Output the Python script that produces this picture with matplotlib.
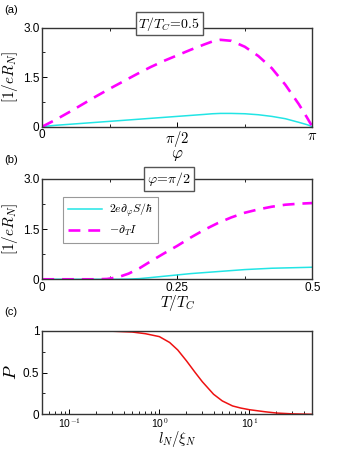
import numpy as np
import matplotlib
matplotlib.use("Agg")
import matplotlib.pyplot as plt
from matplotlib.ticker import FixedLocator, NullFormatter, LogLocator

plt.rcParams["mathtext.fontset"] = "cm"
plt.rcParams["font.family"] = "Liberation Sans"
plt.rcParams["axes.linewidth"] = 1.0
plt.rcParams["axes.edgecolor"] = "#333333"

# panel (a): vs phase at T/Tc = 0.5  (x in units of pi)
phi_a = [0, 0.05, 0.1, 0.15, 0.2, 0.25, 0.3, 0.35, 0.4, 0.45, 0.5, 0.55, 0.6,
         0.63, 0.66, 0.7, 0.75, 0.8, 0.85, 0.9, 0.95, 0.98, 1.0]
dTI_a = [0, 0.21, 0.44, 0.68, 0.92, 1.15, 1.37, 1.59, 1.80, 1.99, 2.16, 2.33, 2.49,
         2.58, 2.63, 2.60, 2.42, 2.14, 1.77, 1.27, 0.68, 0.28, 0]
dS_a = [0, 0.04, 0.07, 0.10, 0.13, 0.16, 0.19, 0.22, 0.25, 0.28, 0.31, 0.34, 0.37,
        0.39, 0.40, 0.40, 0.39, 0.36, 0.31, 0.24, 0.13, 0.06, 0]

# panel (b): vs temperature at phi = pi/2
t_b = [0, 0.05, 0.1, 0.12, 0.14, 0.16, 0.18, 0.2, 0.225, 0.25, 0.275, 0.3, 0.325,
       0.35, 0.375, 0.4, 0.425, 0.45, 0.475, 0.5]
dTI_b = [0, 0, 0, 0.01, 0.06, 0.17, 0.33, 0.53, 0.77, 1.0, 1.25, 1.48, 1.68,
         1.85, 1.99, 2.09, 2.17, 2.23, 2.26, 2.28]
dS_b = [0, 0, 0, 0, 0, 0.005, 0.02, 0.05, 0.09, 0.13, 0.17, 0.20, 0.23,
        0.26, 0.29, 0.31, 0.33, 0.34, 0.35, 0.36]

# panel (c): P vs l_N / xi_N
l_c = [0.05, 0.1, 0.2, 0.3, 0.5, 0.7, 1.0, 1.3, 1.6, 2.0, 2.5, 3.0, 4.0, 5.0,
       6.5, 8.0, 10, 15, 20, 30, 50]
P_c = [1.0, 1.0, 1.0, 0.995, 0.985, 0.965, 0.93, 0.86, 0.77, 0.64, 0.50, 0.39,
       0.24, 0.16, 0.10, 0.075, 0.055, 0.03, 0.015, 0.005, 0.0]

cyan = "#22E5E5"
magenta = "#FF00FF"
tickfs = 8.5
labfs = 11

fig = plt.figure(figsize=(3.38, 4.49), dpi=100)
ax_a = fig.add_axes([0.125, 0.718, 0.799, 0.2205])
ax_b = fig.add_axes([0.125, 0.378, 0.799, 0.2234])
ax_c = fig.add_axes([0.125, 0.0773, 0.799, 0.186])


def style(ax):
    ax.tick_params(which="both", direction="in", labelsize=tickfs, pad=2)
    ax.tick_params(which="major", length=3.5, width=0.7)
    ax.tick_params(which="minor", length=2, width=0.6)
    ax.tick_params(axis="x", which="minor", top=True)


# (a)
ax_a.plot(np.array(phi_a) * np.pi, dS_a, color=cyan, lw=1.1)
ax_a.plot(np.array(phi_a) * np.pi, dTI_a, color=magenta, lw=1.9, ls=(0, (4.5, 3)))
ax_a.set_xlim(0, np.pi)
ax_a.set_ylim(0, 3.0)
ax_a.set_xticks([0, np.pi / 2, np.pi])
ax_a.set_xticklabels(["0", r"$\pi/2$", r"$\pi$"])
ax_a.xaxis.set_minor_locator(FixedLocator([np.pi / 4, 3 * np.pi / 4]))
ax_a.set_yticks([0, 1.5, 3.0])
ax_a.set_yticklabels(["0", "1.5", "3.0"])
ax_a.yaxis.set_minor_locator(FixedLocator([0.75, 2.25]))
style(ax_a)
for lbl in ax_a.get_xticklabels()[1:]:
    lbl.set_fontsize(10.5)
ax_a.set_xlabel(r"$\varphi$", fontsize=labfs + 1, labelpad=-1)
ax_a.set_ylabel(r"$[1/eR_N]$", fontsize=labfs, labelpad=2)
ax_a.text(0.47, 1.04, r"$T/T_C\!=\!0.5$", transform=ax_a.transAxes, ha="center",
          va="center", fontsize=10,
          bbox=dict(boxstyle="square,pad=0.2", fc="white", ec="#555555", lw=1.0))

# (b)
ax_b.plot(t_b, dS_b, color=cyan, lw=1.1, label=r"$2e\partial_\varphi S/\hbar$")
ax_b.plot(t_b, dTI_b, color=magenta, lw=1.9, ls=(0, (4.5, 3)), label=r"$-\partial_T I$")
ax_b.set_xlim(0, 0.5)
ax_b.set_ylim(0, 3.0)
ax_b.set_xticks([0, 0.25, 0.5])
ax_b.set_xticklabels(["0", "0.25", "0.5"])
ax_b.xaxis.set_minor_locator(FixedLocator([0.125, 0.375]))
ax_b.set_yticks([0, 1.5, 3.0])
ax_b.set_yticklabels(["0", "1.5", "3.0"])
ax_b.yaxis.set_minor_locator(FixedLocator([0.75, 2.25]))
style(ax_b)
ax_b.set_xlabel(r"$T/T_C$", fontsize=labfs, labelpad=-1)
ax_b.set_ylabel(r"$[1/eR_N]$", fontsize=labfs, labelpad=2)
ax_b.text(0.47, 1.0, r"$\varphi\!=\!\pi/2$", transform=ax_b.transAxes, ha="center",
          va="center", fontsize=10,
          bbox=dict(boxstyle="square,pad=0.2", fc="white", ec="#555555", lw=1.0))
leg = ax_b.legend(loc="upper left", bbox_to_anchor=(0.078, 0.82), fontsize=8.5,
                  fancybox=False, edgecolor="#999999", framealpha=1,
                  handlelength=2.9, borderpad=0.4, labelspacing=0.4,
                  handletextpad=0.6, borderaxespad=0)
leg.get_frame().set_linewidth(0.8)

# (c)
ax_c.plot(l_c, P_c, color="#EE1111", lw=1.1)
ax_c.set_xscale("log")
ax_c.set_xlim(0.05, 50)
ax_c.set_ylim(0, 1)
ax_c.set_yticks([0, 0.5, 1])
ax_c.set_yticklabels(["0", "0.5", "1"])
ax_c.yaxis.set_minor_locator(FixedLocator([0.25, 0.75]))
ax_c.xaxis.set_major_locator(FixedLocator([0.1, 1, 10]))
ax_c.set_xticklabels([r"10$^{-1}$", r"10$^{0}$", r"10$^{1}$"])
ax_c.xaxis.set_minor_locator(LogLocator(base=10, subs=np.arange(2, 10)))
ax_c.xaxis.set_minor_formatter(NullFormatter())
style(ax_c)
ax_c.tick_params(axis="x", which="minor", top=False)
ax_c.tick_params(axis="x", which="major", labelsize=7.5, pad=1.5)
ax_c.set_xlabel(r"$l_N/\xi_N$", fontsize=10.5, labelpad=-1)
ax_c.set_ylabel(r"$P$", fontsize=labfs + 2, labelpad=2)

for y, lab in [(0.978, "(a)"), (0.643, "(b)"), (0.305, "(c)")]:
    fig.text(0.012, y, lab, fontsize=8, ha="left", va="center")

fig.savefig("out.png", dpi=100)
